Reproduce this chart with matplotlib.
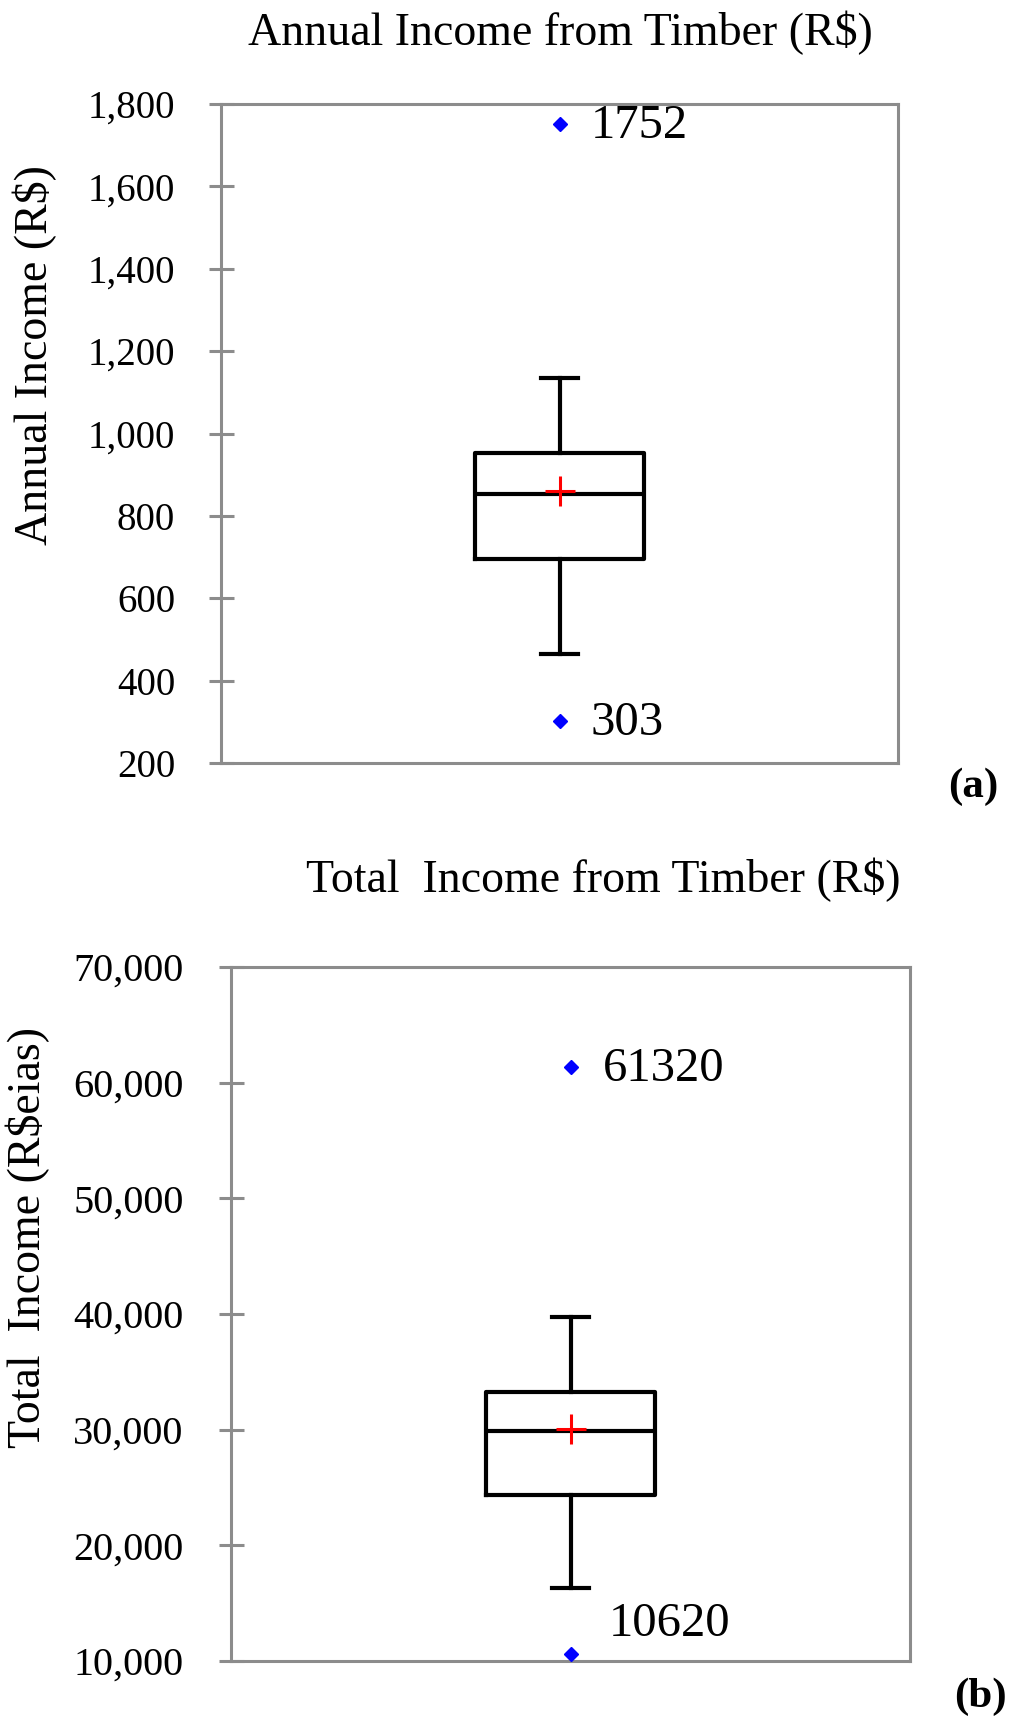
import matplotlib
matplotlib.use("Agg")
import matplotlib.pyplot as plt
from matplotlib.ticker import FuncFormatter

plt.rcParams['font.family'] = ['Liberation Serif', 'DejaVu Serif']

# ---- data (a) annual income ----
a_title = "Annual Income from Timber (R$)"
a_ylabel = "Annual Income (R$)"
a_stats = dict(whislo=465, q1=696, med=854, q3=953, whishi=1135, mean=860)
a_fliers = [1752, 303]
a_ticks = [200, 400, 600, 800, 1000, 1200, 1400, 1600, 1800]

# ---- data (b) total income ----
b_title = "Total  Income from Timber (R$)"
b_ylabel = "Total  Income (R$eias)"
b_stats = dict(whislo=16300, q1=24350, med=29900, q3=33250, whishi=39700, mean=30100)
b_fliers = [61320, 10620]
b_ticks = [10000, 20000, 30000, 40000, 50000, 60000, 70000]

W, H = 1024, 1730
fig = plt.figure(figsize=(W / 100, H / 100), dpi=100)

def px_axes(l, t, r, b):
    return fig.add_axes([l / W, 1 - b / H, (r - l) / W, (b - t) / H])

ax_a = px_axes(221, 104, 898, 763)
ax_b = px_axes(231, 967, 910, 1661)

gray = '#8c8c8c'
lw = 3.0

def draw(ax, stats, fliers, ticks, offsets, tsize, tpad):
    st = dict(stats)
    st['fliers'] = []
    ax.bxp([st], positions=[1], widths=0.25, showmeans=True, showfliers=False,
           capwidths=[0.055],
           boxprops=dict(color='black', linewidth=lw),
           medianprops=dict(color='black', linewidth=lw),
           whiskerprops=dict(color='black', linewidth=lw),
           capprops=dict(color='black', linewidth=lw),
           meanprops=dict(marker='+', markeredgecolor='red', markersize=22,
                          markeredgewidth=2.2, linestyle='none'))
    ax.plot([1] * len(fliers), fliers, linestyle='none', marker='D',
            markersize=7, color='blue', markeredgecolor='blue', zorder=5)
    for v, (dx, dy) in zip(fliers, offsets):
        ax.annotate(str(v), (1, v), xytext=(dx, dy), textcoords='offset pixels',
                    ha='left', va='center', fontsize=35, color='black')
    ax.set_xlim(0.5, 1.5)
    ax.set_ylim(ticks[0], ticks[-1])
    ax.set_yticks(ticks)
    ax.yaxis.set_major_formatter(FuncFormatter(lambda v, p: f"{int(v):,}"))
    ax.set_xticks([])
    for s in ax.spines.values():
        s.set_color(gray)
        s.set_linewidth(2.2)
    ax.tick_params(axis='y', direction='inout', length=18, width=2.2,
                   color=gray, labelsize=tsize, pad=tpad, labelcolor='black')

draw(ax_a, a_stats, a_fliers, a_ticks, [(31, -2), (31, -2)], 28, 24)
draw(ax_b, b_stats, b_fliers, b_ticks, [(32, -2), (38, 30)], 29, 25)

fig.text(560 / W, 1 - 33 / H, a_title, ha='center', va='center', fontsize=33)
fig.text(603 / W, 1 - 880 / H, b_title, ha='center', va='center', fontsize=33)
fig.text(35 / W, 1 - 355 / H, a_ylabel, rotation=90, ha='center', va='center', fontsize=33)
fig.text(28 / W, 1 - 1238 / H, b_ylabel, rotation=90, ha='center', va='center', fontsize=33)
fig.text(973 / W, 1 - 787 / H, "(a)", ha='center', va='center', fontsize=31, fontweight='bold')
fig.text(980 / W, 1 - 1697 / H, "(b)", ha='center', va='center', fontsize=31, fontweight='bold')

fig.savefig("out.png", dpi=100)
